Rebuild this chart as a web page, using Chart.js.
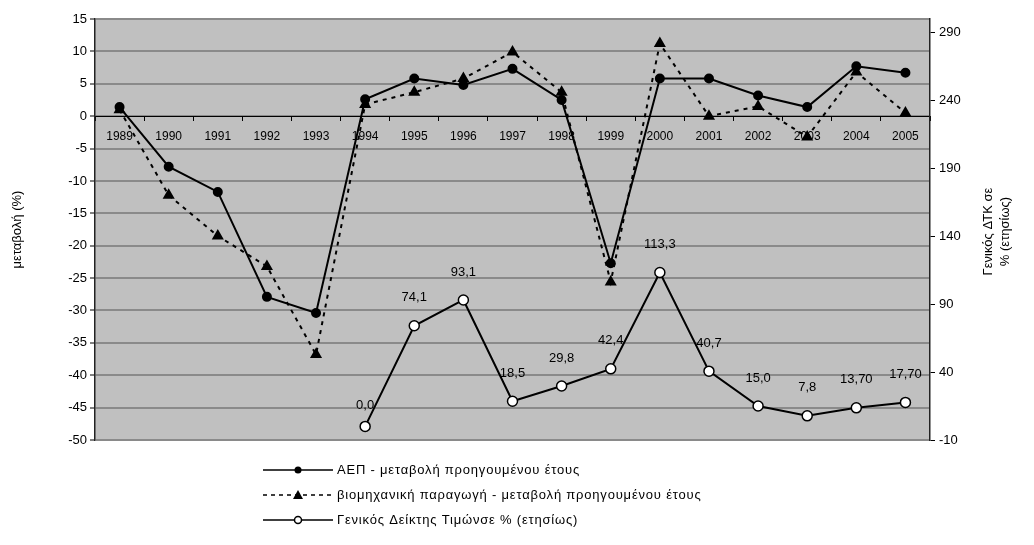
<!DOCTYPE html>
<html>
<head>
<meta charset="utf-8">
<script src="https://cdn.jsdelivr.net/npm/chart.js@4.4.0/dist/chart.umd.min.js"></script>
<style>
  html, body { margin: 0; padding: 0; background: #ffffff; }
  #wrap { width: 1034px; height: 545px; }
</style>
</head>
<body>
<div id="wrap"><canvas id="c" width="1034" height="545"></canvas></div>
<script>
const years = ['1989','1990','1991','1992','1993','1994','1995','1996','1997','1998','1999','2000','2001','2002','2003','2004','2005'];
const gdpChange = [1.4, -7.8, -11.7, -27.9, -30.4, 2.6, 5.8, 4.8, 7.3, 2.5, -22.7, 5.8, 5.8, 3.2, 1.4, 7.7, 6.7];
const industryChange = [1.0, -12.2, -18.5, -23.2, -36.8, 1.8, 3.7, 5.8, 9.9, 3.7, -25.6, 11.2, 0.0, 1.5, -3.2, 6.8, 0.5];
const priceIndex = [null, null, null, null, null, 0.0, 74.1, 93.1, 18.5, 29.8, 42.4, 113.3, 40.7, 15.0, 7.8, 13.7, 17.7];
const priceLabels = ['', '', '', '', '', '0,0', '74,1', '93,1', '18,5', '29,8', '42,4', '113,3', '40,7', '15,0', '7,8', '13,70', '17,70'];
const leftTicks = [-50, -45, -40, -35, -30, -25, -20, -15, -10, -5, 0, 5, 10, 15];
const rightTicks = [-10, 40, 90, 140, 190, 240, 290];
const seriesNames = [
  'ΑΕΠ - μεταβολή προηγουμένου έτους',
  'βιομηχανική παραγωγή - μεταβολή προηγουμένου έτους',
  'Γενικός Δείκτης Τιμώνσε % (ετησίως)'
];
const leftTitle = 'μεταβολή (%)';
const rightTitle = ['Γενικός ΔΤΚ σε', '% (ετησίως)'];

const FONT = "'Liberation Sans', Arial, sans-serif";

const bgPlugin = {
  id: 'plotBg',
  beforeDraw(chart) {
    const {ctx, chartArea: a} = chart;
    ctx.save();
    ctx.fillStyle = '#c0c0c0';
    ctx.fillRect(a.left, a.top, a.right - a.left, a.bottom - a.top);
    ctx.restore();
  }
};

const labelPlugin = {
  id: 'priceLabels',
  afterDatasetsDraw(chart) {
    const {ctx} = chart;
    const meta = chart.getDatasetMeta(2);
    ctx.save();
    ctx.font = '13px ' + FONT;
    ctx.fillStyle = '#000';
    ctx.textAlign = 'center';
    ctx.textBaseline = 'middle';
    meta.data.forEach((pt, i) => {
      const txt = priceLabels[i];
      if (!txt || priceIndex[i] === null) return;
      const off = i === 5 ? 21 : 28;
      ctx.fillText(txt, pt.x, pt.y - off);
    });
    ctx.restore();
  }
};

const extrasPlugin = {
  id: 'extras',
  afterDraw(chart) {
    const {ctx, chartArea: a} = chart;
    ctx.save();
    // right axis title (reads bottom to top)
    ctx.font = '13px ' + FONT;
    ctx.fillStyle = '#000';
    ctx.textAlign = 'center';
    ctx.textBaseline = 'middle';
    const cy = (a.top + a.bottom) / 2 + 2;
    ctx.translate(988, cy);
    ctx.rotate(-Math.PI / 2);
    ctx.fillText(rightTitle[0], 0, 0);
    ctx.fillText(rightTitle[1], 0, 17);
    ctx.restore();

    // legend
    ctx.save();
    const rows = [470, 495, 520];
    const x0 = 263, x1 = 333, xm = 298;
    ctx.font = '13px ' + FONT;
    if ('letterSpacing' in ctx) ctx.letterSpacing = '0.8px';
    ctx.textAlign = 'left';
    ctx.textBaseline = 'middle';
    rows.forEach((y, i) => {
      ctx.strokeStyle = '#000';
      ctx.lineWidth = 1.5;
      ctx.setLineDash(i === 1 ? [4, 4] : []);
      ctx.beginPath();
      ctx.moveTo(x0, y);
      ctx.lineTo(x1, y);
      ctx.stroke();
      ctx.setLineDash([]);
      if (i === 0) {
        ctx.fillStyle = '#000';
        ctx.beginPath(); ctx.arc(xm, y, 3.5, 0, Math.PI * 2); ctx.fill();
      } else if (i === 1) {
        ctx.fillStyle = '#000';
        ctx.beginPath();
        ctx.moveTo(xm, y - 5); ctx.lineTo(xm + 5, y + 4); ctx.lineTo(xm - 5, y + 4);
        ctx.closePath(); ctx.fill();
      } else {
        ctx.fillStyle = '#fff';
        ctx.lineWidth = 1.5;
        ctx.beginPath(); ctx.arc(xm, y, 3.5, 0, Math.PI * 2); ctx.fill(); ctx.stroke();
      }
      ctx.fillStyle = '#000';
      ctx.fillText(seriesNames[i], 337, y);
    });
    if ('letterSpacing' in ctx) ctx.letterSpacing = '0px';
    ctx.restore();
  }
};

new Chart(document.getElementById('c'), {
  type: 'line',
  data: {
    labels: years,
    datasets: [
      {
        label: seriesNames[0],
        data: gdpChange,
        yAxisID: 'y',
        borderColor: '#000',
        borderWidth: 2,
        backgroundColor: '#000',
        pointStyle: 'circle',
        pointRadius: 4,
        pointBackgroundColor: '#000',
        pointBorderColor: '#000',
        tension: 0,
        order: 1
      },
      {
        label: seriesNames[1],
        data: industryChange,
        yAxisID: 'y',
        borderColor: '#000',
        borderWidth: 2,
        borderDash: [4, 5],
        backgroundColor: '#000',
        pointStyle: 'triangle',
        pointRadius: 5,
        pointBackgroundColor: '#000',
        pointBorderColor: '#000',
        tension: 0,
        order: 2
      },
      {
        label: seriesNames[2],
        data: priceIndex,
        yAxisID: 'y1',
        borderColor: '#000',
        borderWidth: 2,
        pointStyle: 'circle',
        pointRadius: 5,
        pointBackgroundColor: '#fff',
        pointBorderColor: '#000',
        pointBorderWidth: 1.5,
        tension: 0,
        order: 0
      }
    ]
  },
  options: {
    responsive: false,
    animation: false,
    devicePixelRatio: 1,
    layout: { padding: { top: 19, bottom: 105, left: 0, right: 0 } },
    plugins: {
      legend: { display: false },
      tooltip: { enabled: false }
    },
    scales: {
      x: {
        type: 'category',
        position: { y: 0 },
        offset: true,
        grid: {
          offset: true,
          drawOnChartArea: false,
          drawTicks: true,
          tickLength: 4,
          color: '#000'
        },
        border: { display: true, color: '#000', width: 1 },
        ticks: {
          color: '#000',
          font: { family: FONT, size: 12 },
          padding: 9,
          maxRotation: 0,
          autoSkip: false
        }
      },
      y: {
        position: 'left',
        min: -50,
        max: 15,
        afterBuildTicks(scale) { scale.ticks = leftTicks.map(v => ({ value: v })); },
        afterFit(scale) { scale.width = 95; },
        grid: {
          color: '#8a8a8a',
          lineWidth: 2,
          tickColor: '#000',
          tickWidth: 1,
          tickLength: 5
        },
        border: { display: true, color: '#222', width: 1.5 },
        ticks: {
          color: '#000',
          font: { family: FONT, size: 13 },
          padding: 3
        },
        title: {
          display: true,
          text: leftTitle,
          color: '#000',
          font: { family: FONT, size: 13 },
          padding: { top: 10, bottom: 0 }
        }
      },
      y1: {
        position: 'right',
        min: -10,
        max: 300,
        afterBuildTicks(scale) { scale.ticks = rightTicks.map(v => ({ value: v })); },
        afterFit(scale) { scale.width = 104; },
        grid: {
          drawOnChartArea: false,
          color: '#000',
          tickLength: 5,
          lineWidth: 1
        },
        border: { display: true, color: '#222', width: 1.5 },
        ticks: {
          color: '#000',
          font: { family: FONT, size: 13 },
          padding: 4
        }
      }
    }
  },
  plugins: [bgPlugin, labelPlugin, extrasPlugin]
});
</script>
</body>
</html>
